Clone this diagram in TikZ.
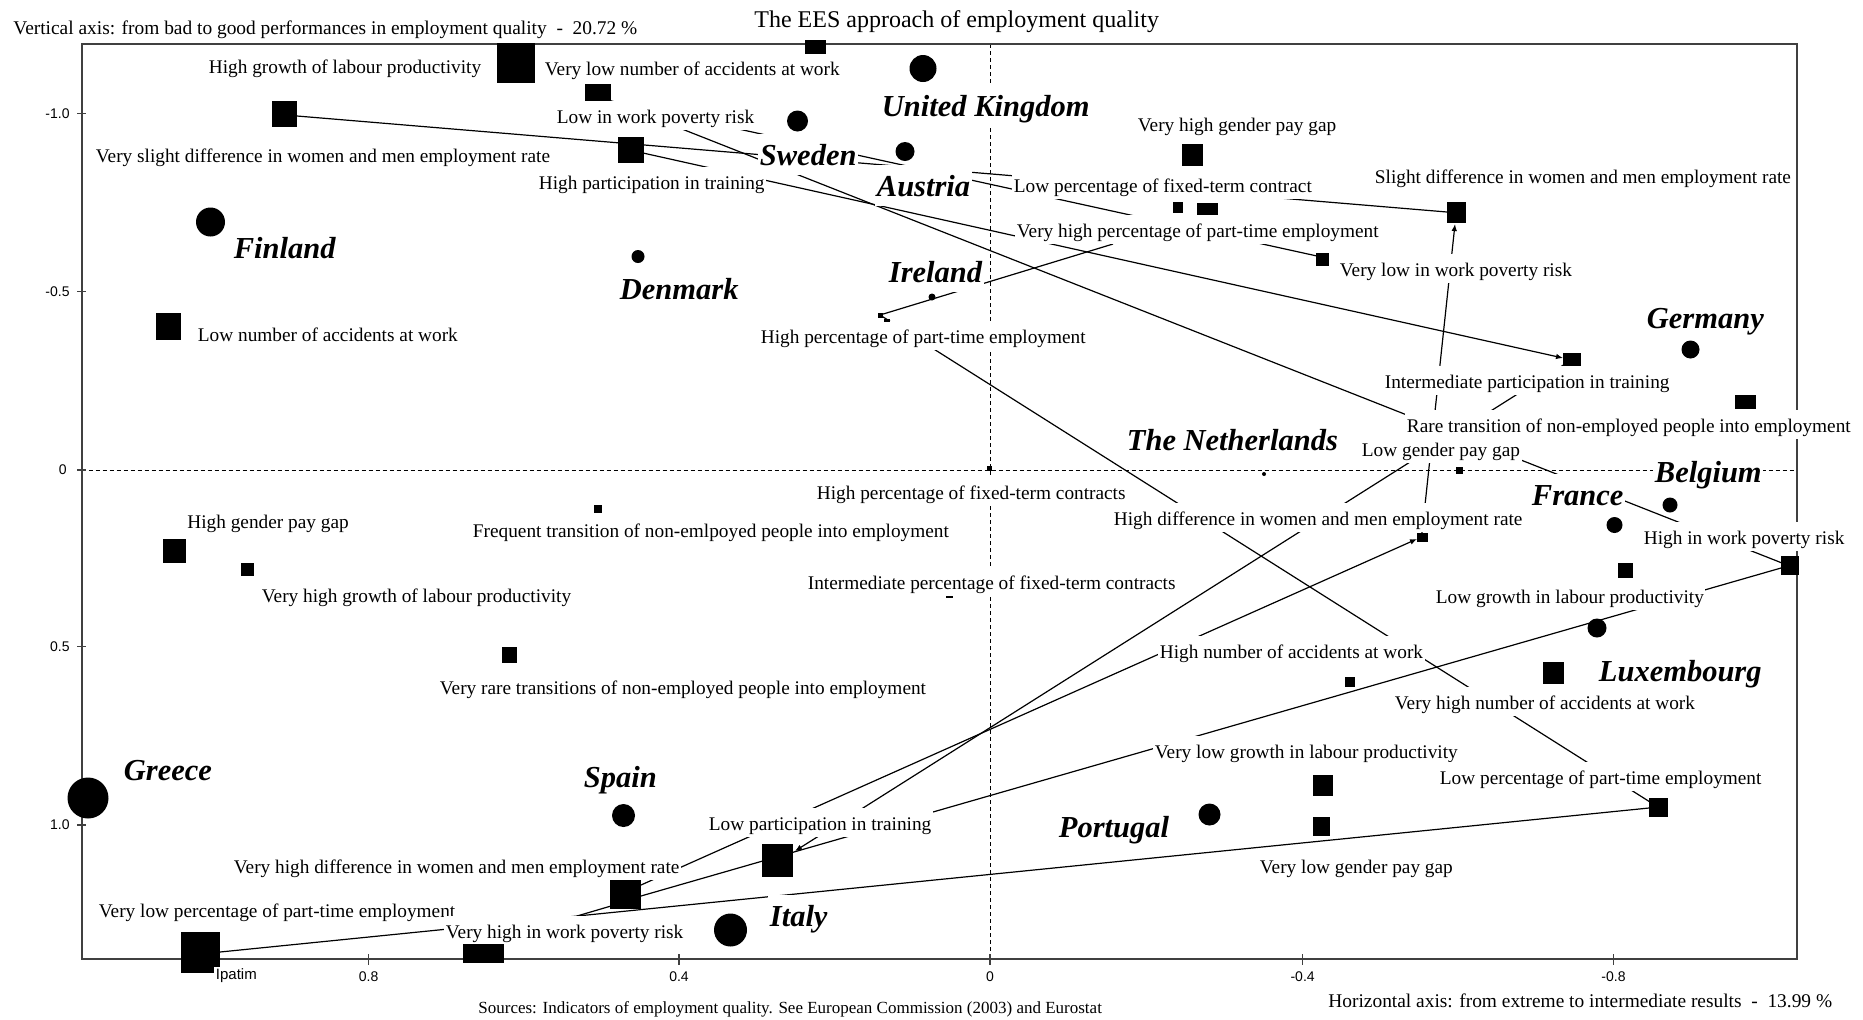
\documentclass[tikz,border=0pt]{standalone}
\usepackage{fontspec}
\setmainfont{Liberation Serif}
\newfontfamily\ticksf{Liberation Sans}
\usetikzlibrary{arrows.meta}
\newcommand\lbfont{\fontsize{9.65}{11}\selectfont}
\newcommand\ctfont{\fontsize{15.25}{17}\selectfont\bfseries\itshape}
\newcommand\mksq[4]{\fill ({#1-#3/2},{#2-#4/2}) rectangle ({#1+#3/2},{#2+#4/2});}
\newcommand\mkdisc[3]{\fill (#1,#2) circle[radius={#3*0.25pt}];}
\begin{document}
\begin{tikzpicture}[x=0.5pt,y=-0.5pt,
  lab/.style={font=\lbfont, fill=white, anchor=base west, inner xsep=0.75pt, inner ysep=0.75pt, text height=10.25pt, text depth=2.5pt},
  ctry/.style={font=\ctfont, fill=white, anchor=base west, inner xsep=0.75pt, inner ysep=0.75pt, text height=15pt, text depth=4.25pt},
  ldr/.style={line width=0.6pt},
  arr/.style={ldr, -{Latex[length=3.5pt,width=2.8pt]}},
  ticklab/.style={font=\ticksf\fontsize{7}{8}\selectfont, inner sep=0pt},
  headtxt/.style={anchor=base west, inner sep=0pt}]

\path[use as bounding box, fill=white] (0,0) rectangle (1863,1019);

% axes through the origin
\draw[line width=0.5pt, dash pattern=on 2pt off 1.5pt] (990,44) -- (990,959);
\draw[line width=0.5pt, dash pattern=on 2pt off 1.5pt] (81.5,470) -- (1797,470);
% frame and ticks
\draw[line width=1pt, black!75] (81.5,44) rectangle (1797,959);
\foreach \yy in {113.3,291.7,470,646.7,825} \draw[line width=0.6pt, black!75] (77,\yy) -- (86,\yy);
\foreach \xx in {368.6,679,990,1302.6,1613.5} \draw[line width=0.6pt, black!75] (\xx,954) -- (\xx,965);
\node[ticklab, anchor=east] (ty1) at (70,113.3) {-1.0};
\node[ticklab, anchor=east] (ty2) at (70,291.7) {-0.5};
\node[ticklab, anchor=east] (ty3) at (67,470) {0};
\node[ticklab, anchor=east] (ty4) at (70,646.7) {0.5};
\node[ticklab, anchor=east] (ty5) at (70,825) {1.0};
\node[ticklab] (tx1) at (368.6,977) {0.8};
\node[ticklab] (tx2) at (679,977) {0.4};
\node[ticklab] (tx3) at (990,977) {0};
\node[ticklab] (tx4) at (1302.6,977) {-0.4};
\node[ticklab] (tx5) at (1613.5,977) {-0.8};

% leader lines
\draw[ldr] (297,116) -- (1447,212);
\draw[ldr] (611,101) -- (1317,256);
\draw[ldr] (611,101) -- (1782,563);
\draw[arr] (643,153) -- (1563,358);
\draw[ldr] (880,315) -- (1113,244);
\draw[ldr] (880,315) -- (1650,802);
\draw[arr] (641,885) -- (1417,539);
\draw[arr] (1422,533) -- (1455,224);
\draw[arr] (1565,364) -- (795,851);
\draw[ldr] (641,896) -- (1781,568);
\draw[ldr] (220,952) -- (1649,808);
\draw[ldr] (577,916) -- (611,906);

% headings
\node[headtxt, font=\fontsize{12}{14}\selectfont] (title) at (754,27) {The EES approach of employment quality};
\node[headtxt, font=\fontsize{9.7}{11}\selectfont] (vax) at (13,34) {Vertical axis: from bad to good performances in employment quality\ \ -\ \ 20.72 \%};
\node[headtxt, font=\fontsize{9.7}{11}\selectfont] (hax) at (1328,1007) {Horizontal axis: from extreme to intermediate results\ \ -\ \ 13.99 \%};
\node[headtxt, font=\fontsize{8.5}{10}\selectfont] (src) at (478,1013) {Sources: Indicators of employment quality. See European Commission (2003) and Eurostat};

% category labels
\node[lab] (l1) at (207,73) {High growth of labour productivity};
\node[lab] (l2) at (543,75) {Very low number of accidents at work};
\node[lab] (l3) at (555,123) {Low in work poverty risk};
\node[lab] (l4) at (94,162) {Very slight difference in women and men employment rate};
\node[lab] (l5) at (537,189) {High participation in training};
\node[lab] (l6) at (196,341) {Low number of accidents at work};
\node[lab] (l7) at (759,343) {High percentage of part-time employment};
\node[lab] (l8) at (1136,131) {Very high gender pay gap};
\node[lab] (l9) at (1012,192) {Low percentage of fixed-term contract};
\node[lab] (l10) at (1373,183) {Slight difference in women and men employment rate};
\node[lab] (l11) at (1015,237) {Very high percentage of part-time employment};
\node[lab] (l12) at (1338,276) {Very low in work poverty risk};
\node[lab] (l13) at (1383,388) {Intermediate participation in training};
\node[lab] (l14) at (1405,432) {Rare transition of non-employed people into employment};
\node[lab] (l15) at (1360,456) {Low gender pay gap};
\node[lab] (l16) at (1112,525) {High difference in women and men employment rate};
\node[lab] (l17) at (1642,544) {High in work poverty risk};
\node[lab] (l18) at (1434,603) {Low growth in labour productivity};
\node[lab] (l19) at (1158,658) {High number of accidents at work};
\node[lab] (l20) at (1393,709) {Very high number of accidents at work};
\node[lab] (l21) at (1153,758) {Very low growth in labour productivity};
\node[lab] (l22) at (1438,784) {Low percentage of part-time employment};
\node[lab] (l23) at (1258,873) {Very low gender pay gap};
\node[lab] (l24) at (815,499) {High percentage of fixed-term contracts};
\node[lab] (l25) at (471,537) {Frequent transition of non-emlpoyed people into employment};
\node[lab] (l26) at (806,589) {Intermediate percentage of fixed-term contracts};
\node[lab] (l27) at (438,694) {Very rare transitions of non-employed people into employment};
\node[lab] (l28) at (185.5,528) {High gender pay gap};
\node[lab] (l29) at (260,602) {Very high growth of labour productivity};
\node[lab] (l30) at (707,830) {Low participation in training};
\node[lab] (l31) at (232,873) {Very high difference in women and men employment rate};
\node[lab] (l32) at (97,917) {Very low percentage of part-time employment};
\node[lab] (l33) at (444,938) {Very high in work poverty risk};

% country labels
\node[ctry] (uk) at (880,116) {United Kingdom};
\node[ctry] (se) at (758,165) {Sweden};
\node[ctry] (at) at (875,196) {Austria};
\node[ctry] (fi) at (232,258) {Finland};
\node[ctry] (dk) at (618,299) {Denmark};
\node[ctry] (ie) at (887,282) {Ireland};
\node[ctry] (de) at (1645,328) {Germany};
\node[ctry] (nl) at (1125,450) {The Netherlands};
\node[ctry] (be) at (1653,482) {Belgium};
\node[ctry] (fr) at (1530,505) {France};
\node[ctry] (lu) at (1597,681) {Luxembourg};
\node[ctry] (gr) at (122,780) {Greece};
\node[ctry] (es) at (582,787) {Spain};
\node[ctry] (pt) at (1057,837) {Portugal};
\node[ctry] (it) at (768,926) {Italy};

% category markers (squares)
\mksq{516}{63}{38}{40}
\mksq{815.5}{47}{21}{14}
\mksq{598}{92.5}{26}{17}
\mksq{284.5}{114}{25}{26}
\mksq{630.5}{150}{26}{26}
\mksq{168.5}{326.5}{25}{27}
\mksq{1192.5}{155}{21}{22}
\mksq{1178}{207.5}{10}{11}
\mksq{1207.5}{209}{21}{12}
\mksq{1456.5}{212.5}{19}{21}
\mksq{1322.5}{259.5}{13}{13}
\mksq{1572}{359.5}{18}{13}
\mksq{1745.5}{402}{21}{14}
\mksq{1459}{470}{7}{7}
\mksq{989}{468}{5}{5}
\mksq{1422.5}{537.5}{11}{9}
\mksq{1625.5}{570.5}{15}{15}
\mksq{1790}{565.5}{18}{19}
\mksq{1553.5}{673}{21}{22}
\mksq{1350}{682}{10}{10}
\mksq{1323}{785.5}{20}{21}
\mksq{1321.5}{826.5}{17}{19}
\mksq{1658.5}{807.5}{19}{19}
\mksq{174}{551}{23}{24}
\mksq{247.5}{569}{13}{13}
\mksq{509.5}{654.5}{15}{16}
\mksq{598}{509}{8}{8}
\mksq{949}{597}{7}{2}
\mksq{777.5}{860.5}{31}{33}
\mksq{625.5}{894.5}{31}{29}
\mksq{200.5}{952.5}{39}{41}
\mksq{483.5}{953.5}{41}{19}
\mksq{880}{315}{5}{5}
\mksq{887}{320.5}{6}{3}

% country markers (discs)
\mkdisc{923}{68.5}{27}
\mkdisc{797.5}{121}{21}
\mkdisc{905}{151.5}{19}
\mkdisc{210.5}{222}{29}
\mkdisc{638}{256.5}{13}
\mkdisc{932}{297}{7}
\mkdisc{1690.5}{349.5}{18}
\mkdisc{1264}{474}{4}
\mkdisc{1670}{505}{15}
\mkdisc{1614.5}{525}{16}
\mkdisc{1597}{628}{19}
\mkdisc{88}{798}{41}
\mkdisc{623.5}{815.5}{23}
\mkdisc{1209.5}{814.5}{22}
\mkdisc{730.5}{930}{33}

\node[ticklab, font=\ticksf\fontsize{7.5}{9}\selectfont, fill=white, anchor=base west, inner sep=0.75pt] (ipatim) at (214,979) {Ipatim};
\end{tikzpicture}
\end{document}
